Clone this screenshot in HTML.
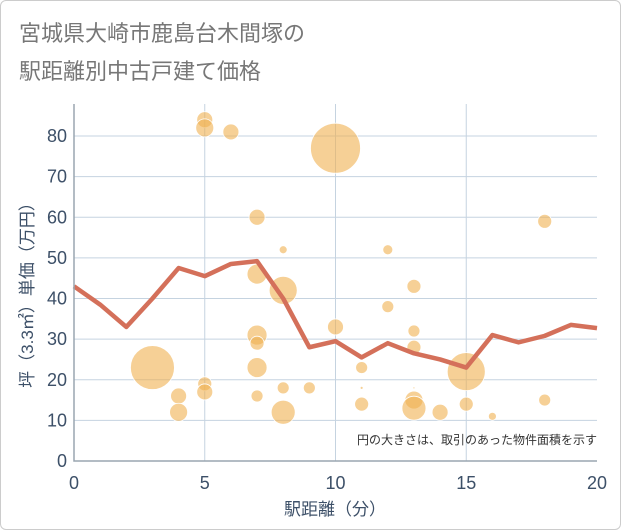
<!DOCTYPE html>
<html><head><meta charset="utf-8"><style>
body{margin:0;background:#fff;}
#wrap{position:relative;width:619px;height:528px;border:1px solid #ccc;border-radius:6px;background:#fff;overflow:hidden;}
.t{font-family:"Liberation Sans","Noto Sans CJK JP",sans-serif;}
</style></head><body>
<div id="wrap">
<svg id="svg" width="621" height="530">
<text x="18" y="40" class="t" font-size="22" fill="#777">宮城県大崎市鹿島台木間塚の</text>
<text x="18" y="78" class="t" font-size="22" fill="#777">駅距離別中古戸建て価格</text>
<g id="grid"></g><g id="bubbles"></g><g id="line"></g><g id="axes"></g>
<text x="334" y="514" class="t" font-size="17" fill="#3d5068" text-anchor="middle">駅距離（分）</text>
<text transform="translate(32,290) rotate(-90)" class="t" font-size="17" fill="#3d5068" text-anchor="middle">坪（3.3㎡）単価（万円）</text>
<text x="596" y="443" class="t" font-size="12" fill="#333" text-anchor="end">円の大きさは、取引のあった物件面積を示す</text>
</svg></div>
<script>
const xTicks=[0,5,10,15,20];
const yTicks=[0,10,20,30,40,50,60,70,80];
const lineX=[0,1,2,3,4,5,6,7,8,9,10,11,12,13,14,15,16,17,18,19,20];
const lineY=[43,38.5,33,40,47.5,45.5,48.5,49.2,40,28,29.5,25.5,29,26.5,25,23,31,29.2,30.8,33.5,32.7];
const bubX=[3,10,15,5,5,6,7,7,8,8,7,7,7,7,8,8,9,10,11,11,11,12,12,13,13,13,13,13,13,14,15,16,18,18,4,4,5,5];
const bubY=[23,77,22,84,82,81,60,46,42,52,31,29,23,16,18,12,18,33,23,14,18,52,38,43,32,28,15,13,18,12,14,11,59,15,16,12,19,17];
const bubR=[22,25,19,8,9,8,8,10,14,4,10,7,10,6,6,12,6,8,6,7,1.5,5,6,7,6,7,9,12,1,8,7,4,7,6,8,9,7,8];
const X0=73,X1=596,Y0=460,YT=103;
const sx=v=>X0+(X1-X0)*v/20, sy=v=>Y0-(Y0-135)*v/80;
const NS="http://www.w3.org/2000/svg";
function mk(t,a,p){const e=document.createElementNS(NS,t);for(const k in a)e.setAttribute(k,a[k]);p.appendChild(e);return e;}
const grid=document.getElementById('grid'),axes=document.getElementById('axes');
const bg=mk('rect',{x:X0,y:YT,width:X1-X0,height:Y0-YT,fill:'#fff'},grid);


yTicks.forEach(v=>{
 const l=mk('line',{x1:X0,x2:X1,y1:sy(v),y2:sy(v),stroke:'#c5d3e0','stroke-width':1},grid);
 
 
 const t=mk('text',{x:X0-7,y:sy(v)+6,'text-anchor':'end','font-size':18,fill:'#3d5068',class:'t'},axes);t.textContent=v;
 
 
});
xTicks.forEach(v=>{
 if(v>0&&v<20){const l=mk('line',{x1:sx(v),x2:sx(v),y1:YT,y2:Y0,stroke:'#c5d3e0','stroke-width':1},grid);
 
 }
 const t=mk('text',{x:sx(v),y:488,'text-anchor':'middle','font-size':18,fill:'#3d5068',class:'t'},axes);t.textContent=v;
 
 
});
const ax=mk('path',{d:`M${X0},${YT}V${Y0}H${X1}`,stroke:'#9aa5b0','stroke-width':1.5,fill:'none'},axes);


const bb=document.getElementById('bubbles');
bubX.forEach((x,i)=>{
 const c=mk('circle',{cx:sx(x),cy:sy(bubY[i]),r:bubR[i],fill:'rgba(240,176,80,0.6)',stroke:'#fff','stroke-width':0.8},bb);
 
 
});
const p=mk('polyline',{points:lineX.map((x,i)=>sx(x)+','+sy(lineY[i])).join(' '),fill:'none',stroke:'#d4705a','stroke-width':4.5,'stroke-linejoin':'round'},document.getElementById('line'));


</script>
</body></html>
